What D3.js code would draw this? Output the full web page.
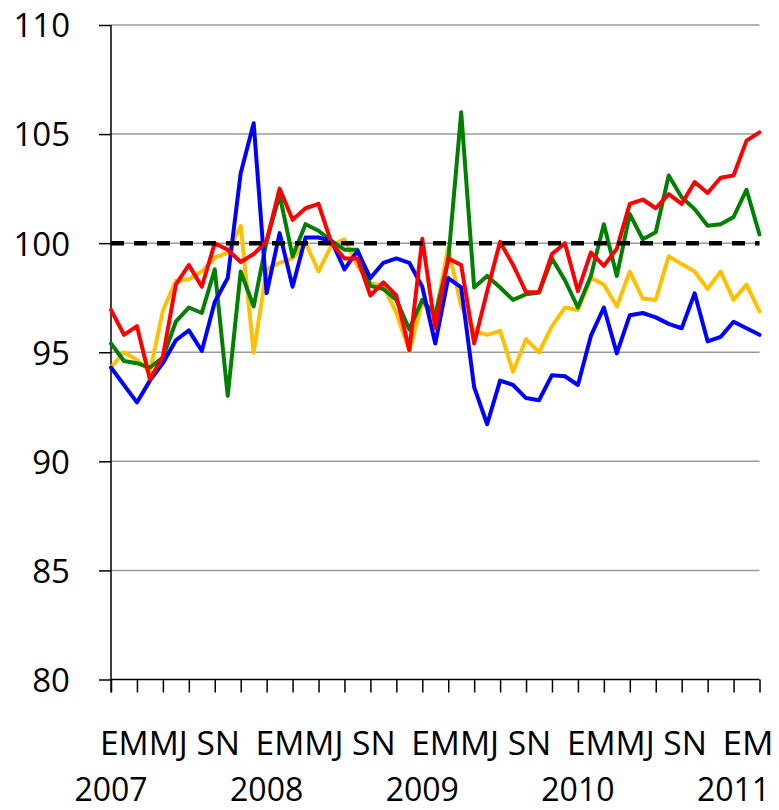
<!DOCTYPE html>
<html>
<head>
<meta charset="utf-8">
<script src="https://cdn.jsdelivr.net/npm/d3@7"></script>
<style>
  html, body { margin: 0; padding: 0; background: #fff; }
  svg { display: block; }
  text { font-family: "Open Sans", "Noto Sans", sans-serif; fill: #000; }
</style>
</head>
<body>
<svg id="chart" width="779" height="810"></svg>
<script>
// ---- data (monthly, Jan 2007 .. Mar 2011) ----
const years = ["2007", "2008", "2009", "2010", "2011"];
const monthLetters = ["E", "M", "M", "J", "S", "N"];
const yTicks = [80, 85, 90, 95, 100, 105, 110];
const reference = 100;

const yellow = [94.3, 95.0, 94.65, 94.1, 96.9, 98.27, 98.35, 98.7, 99.34, 99.57,
  100.8, 94.98, 98.8, 99.1, 99.3, 100.03, 98.7, 99.9, 100.18, 98.96,
  98.17, 98.04, 96.8, 95.06, 97.28, 96.67, 99.8, 97.1, 95.98, 95.8,
  95.98, 94.1, 95.6, 95.0, 96.2, 97.05, 96.94, 98.4, 98.1, 97.1,
  98.7, 97.46, 97.4, 99.4, 99.04, 98.7, 97.9, 98.7, 97.4, 98.1, 96.87];
const green = [95.4, 94.6, 94.5, 94.3, 94.75, 96.4, 97.05, 96.8, 98.8, 93.0,
  98.7, 97.1, 100.1, 102.2, 99.4, 100.87, 100.57, 100.1, 99.7, 99.7,
  98.04, 97.9, 97.4, 96.05, 97.4, 96.7, 99.2, 106.0, 97.97, 98.5,
  97.97, 97.4, 97.66, 97.74, 99.3, 98.3, 97.05, 98.5, 100.87, 98.5,
  101.33, 100.18, 100.5, 103.1, 102.1, 101.56, 100.8, 100.87, 101.2, 102.45, 100.4];
const blue = [94.3, 93.5, 92.7, 93.7, 94.5, 95.55, 96.0, 95.06, 97.3, 98.4,
  103.2, 105.5, 97.7, 100.46, 98.0, 100.26, 100.26, 100.1, 98.8, 99.65,
  98.4, 99.1, 99.3, 99.1, 98.0, 95.4, 98.4, 97.97, 93.4, 91.7,
  93.7, 93.5, 92.9, 92.8, 93.95, 93.9, 93.5, 95.75, 97.05, 94.95,
  96.7, 96.8, 96.6, 96.3, 96.1, 97.7, 95.5, 95.7, 96.4, 96.1, 95.8];
const red = [96.94, 95.8, 96.2, 93.76, 94.8, 98.1, 99.0, 98.0, 100.0, 99.7,
  99.14, 99.5, 100.1, 102.5, 101.07, 101.6, 101.8, 100.0, 99.3, 99.3,
  97.6, 98.2, 97.6, 95.1, 100.2, 96.1, 99.3, 99.0, 95.4, 97.8,
  100.06, 99.0, 97.75, 97.75, 99.5, 100.0, 97.8, 99.57, 98.96, 99.75,
  101.8, 102.0, 101.6, 102.25, 101.8, 102.8, 102.3, 103.0, 103.1, 104.7, 105.08];

const seriesList = [
  { values: yellow, color: "#FFC000" },
  { values: green,  color: "#008000" },
  { values: blue,   color: "#0000FF" },
  { values: red,    color: "#FF0000" }
];

// ---- layout ----
const svg = d3.select("#chart");
const plotLeft = 111, plotRight = 759.5, plotTop = 25, plotBottom = 679.5;
const nMonths = red.length;
const monthIdx = d3.range(nMonths);

const x = d3.scalePoint().domain(monthIdx).range([plotLeft, plotRight]);
const y = d3.scaleLinear().domain([80, 110]).range([plotBottom, plotTop]);

// gridlines
svg.append("g")
  .selectAll("line")
  .data(yTicks.filter(v => v !== 80))
  .join("line")
  .attr("x1", plotLeft).attr("x2", plotRight)
  .attr("y1", d => y(d)).attr("y2", d => y(d))
  .attr("stroke", "#9a9a9a").attr("stroke-width", 1.5);

// y axis
const yAxis = d3.axisLeft(y).tickValues(yTicks).tickSize(12).tickPadding(29).tickFormat(d3.format("d"));
const gy = svg.append("g").attr("transform", `translate(${plotLeft},0)`).call(yAxis);
gy.select(".domain").attr("stroke", "#000").attr("stroke-width", 1.5)
  .attr("d", `M0,${plotTop}V${plotBottom + 13}`);
gy.selectAll(".tick line").attr("stroke", "#000").attr("stroke-width", 1.5);
gy.selectAll(".tick text")
  .style("font-size", "33px")
  .style("font-family", "'Open Sans', sans-serif")
  .attr("dy", "0.36em");

// x axis (ticks every two months)
const xAxis = d3.axisBottom(x)
  .tickValues(monthIdx.filter(i => i % 2 === 0))
  .tickSize(13).tickFormat("");
const gx = svg.append("g").attr("transform", `translate(0,${plotBottom})`).call(xAxis);
gx.select(".domain").attr("stroke", "#000").attr("stroke-width", 1.5)
  .attr("d", `M${plotLeft},0H${plotRight}`);
gx.selectAll(".tick line").attr("stroke", "#000").attr("stroke-width", 1.5);

// month letters per year
const monthsPerYear = 12;
years.forEach((yr, k) => {
  const start = k * monthsPerYear;
  const avail = monthLetters.filter((_, j) => start + 2 * j < nMonths);
  const label = avail.length > 4
    ? avail.slice(0, 4).join("") + " " + avail.slice(4).join("")
    : avail.join("");
  const width = avail.length > 4 ? 140 : 51;
  svg.append("text")
    .attr("x", x(start) - 11)
    .attr("y", 755)
    .attr("text-anchor", "start")
    .attr("textLength", width)
    .attr("lengthAdjust", "spacingAndGlyphs")
    .style("font-size", "32px")
    .text(label);
  svg.append("text")
    .attr("x", x(start))
    .attr("y", 801)
    .attr("text-anchor", "middle")
    .style("font-size", "32px")
    .text(yr);
});

// series lines
const line = d3.line().x((d, i) => x(i)).y(d => y(d));
svg.append("g")
  .selectAll("path")
  .data(seriesList)
  .join("path")
  .attr("d", d => line(d.values))
  .attr("fill", "none")
  .attr("stroke", d => d.color)
  .attr("stroke-width", 4)
  .attr("stroke-linejoin", "round")
  .attr("stroke-linecap", "round");

// dashed reference line at 100
svg.append("line")
  .attr("x1", plotLeft).attr("x2", plotRight)
  .attr("y1", y(reference)).attr("y2", y(reference))
  .attr("stroke", "#000").attr("stroke-width", 4.5)
  .attr("stroke-dasharray", "13,10");
</script>
</body>
</html>
